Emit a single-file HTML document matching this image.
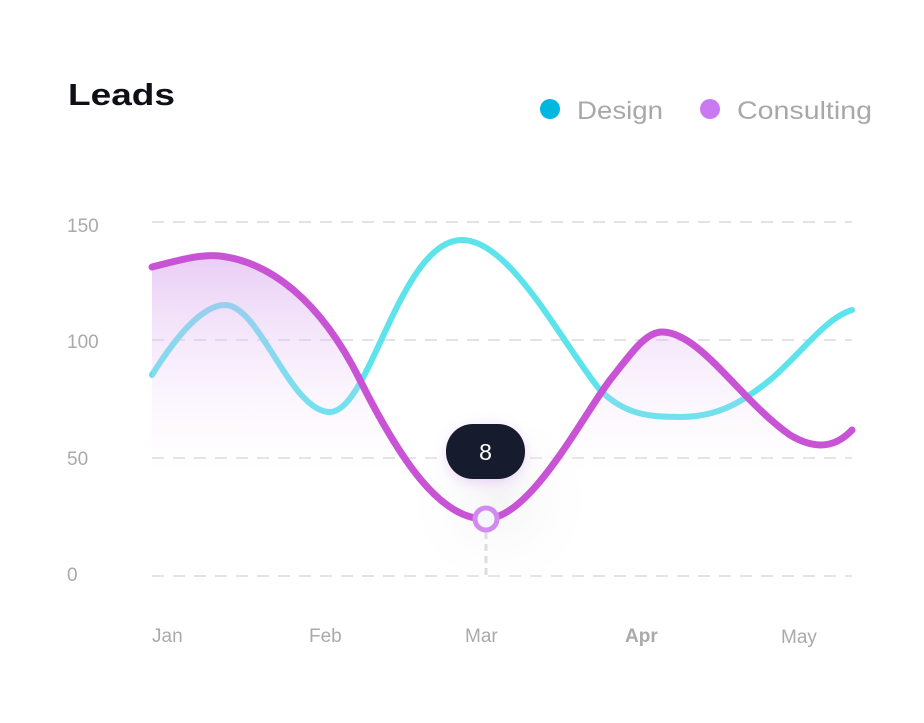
<!DOCTYPE html><html><head><style>
body{margin:0;background:#fff;width:924px;height:718px;overflow:hidden;font-family:"Liberation Sans",sans-serif}
</style></head><body>
<svg width="924" height="718" viewBox="0 0 924 718" xmlns="http://www.w3.org/2000/svg">
<defs>
<linearGradient id="g" gradientUnits="userSpaceOnUse" x1="0" y1="250" x2="0" y2="470">
<stop offset="0" stop-color="#d9a8ee" stop-opacity="0.6"/>
<stop offset="1" stop-color="#f3e0fa" stop-opacity="0"/>
</linearGradient>
<radialGradient id="sh" cx="0.5" cy="0.5" r="0.5">
<stop offset="0" stop-color="#eee" stop-opacity="0.6"/><stop offset="1" stop-color="#fff" stop-opacity="0"/>
</radialGradient>
<filter id="b" x="-50%" y="-50%" width="200%" height="200%"><feGaussianBlur stdDeviation="8"/></filter>
</defs>
<text x="68" y="105" font-size="31" font-weight="bold" fill="#0d1117" textLength="107" lengthAdjust="spacingAndGlyphs">Leads</text>
<circle cx="550" cy="109" r="10" fill="#00b7e0"/>
<text x="577" y="119" font-size="25" fill="#a8a8a8" textLength="86" lengthAdjust="spacingAndGlyphs">Design</text>
<circle cx="710" cy="109" r="10" fill="#c97af0"/>
<text x="737" y="119" font-size="25" fill="#a8a8a8" textLength="135" lengthAdjust="spacingAndGlyphs">Consulting</text>
<g font-size="19" fill="#aaa">
<text x="67" y="232">150</text><text x="67" y="348">100</text><text x="67" y="465">50</text><text x="67" y="581">0</text>
<text x="152" y="642">Jan</text><text x="309" y="642">Feb</text><text x="465" y="642">Mar</text><text x="625" y="642" font-weight="bold">Apr</text><text x="781" y="643">May</text>
</g>
<g stroke="#e3e3e6" stroke-width="2" stroke-dasharray="12 9">
<line x1="152" y1="222" x2="852" y2="222"/><line x1="152" y1="340" x2="852" y2="340"/><line x1="152" y1="458" x2="852" y2="458"/><line x1="152" y1="576" x2="852" y2="576"/>
</g>
<circle cx="500" cy="500" r="100" fill="url(#sh)"/>
<path d="M152 375 C180 330 205 305 225 305 C260 305 290 412 330 412 C370 412 400 240 462 240 C510 240 560 340 600 390 C625 415 650 417 680 417 C720 417 745 400 770 380 C800 355 825 318 852 310" fill="none" stroke="#5de3ec" stroke-width="6" stroke-linecap="round"/>
<path d="M152 267 C180 260 200 254 220 256 C270 262 320 300 360 380 C400 460 440 519 485 519 C530 519 580 420 610 380 C630 355 645 332 662 332 C700 332 740 400 790 435 C815 450 835 448 852 430 L852 470 L152 470 Z" fill="url(#g)"/>
<path d="M152 267 C180 260 200 254 220 256 C270 262 320 300 360 380 C400 460 440 519 485 519 C530 519 580 420 610 380 C630 355 645 332 662 332 C700 332 740 400 790 435 C815 450 835 448 852 430" fill="none" stroke="#c853d4" stroke-width="7" stroke-linecap="round"/>
<line x1="486" y1="532" x2="486" y2="576" stroke="#ddd" stroke-width="3" stroke-dasharray="7 5"/>
<circle cx="486" cy="519" r="11" fill="#f6f7fb" stroke="#d28af0" stroke-width="5"/>
<rect x="450" y="430" width="72" height="50" rx="25" fill="#c98af0" opacity="0.5" filter="url(#b)"/>
<rect x="446" y="424" width="79" height="55" rx="27" fill="#171b2e"/>
<text x="485.5" y="460" font-size="23" fill="#fff" text-anchor="middle">8</text>
</svg>
</body></html>
